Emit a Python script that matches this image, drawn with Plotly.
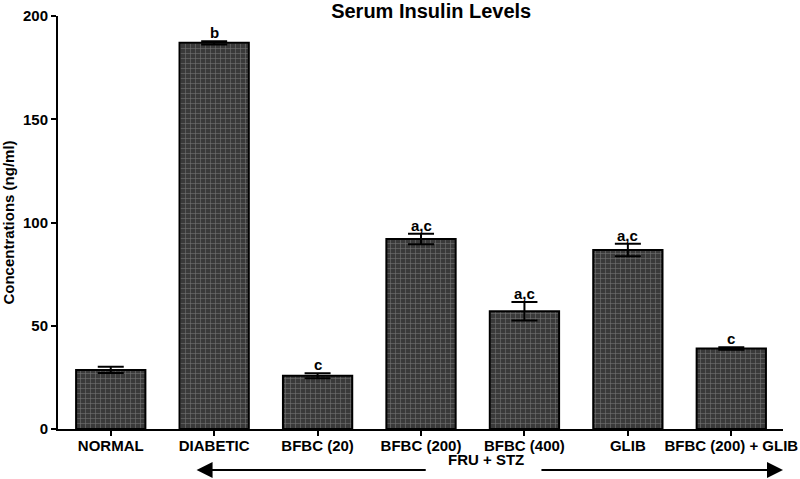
import plotly.graph_objects as go

# data
groups = ["NORMAL", "DIABETIC", "BFBC (20)", "BFBC (200)", "BFBC (400)", "GLIB", "BFBC (200) + GLIB"]
insulin = [28.6, 187.0, 25.8, 92.0, 57.0, 86.7, 39.0]
sem = [1.5, 0.8, 1.2, 2.5, 4.5, 3.0, 0.6]
letters = ["", "b", "c", "a,c", "a,c", "a,c", "c"]

FONT = "Arial, Liberation Sans, sans-serif"
TXT = 15

fig = go.Figure()
fig.add_trace(go.Bar(
    x=groups,
    y=insulin,
    width=0.67,
    marker=dict(
        color="#3a3a3a",
        line=dict(color="black", width=2),
        pattern=dict(shape="+", size=5, solidity=0.2,
                     fgcolor="#b4b4b4", bgcolor="#3a3a3a", fillmode="overlay"),
    ),
    error_y=dict(type="data", array=sem, visible=True,
                 color="black", thickness=2, width=13),
    showlegend=False,
))

# significance letters above each bar
for g, v, e, lab in zip(groups, insulin, sem, letters):
    if lab:
        fig.add_annotation(x=g, y=v + e, text="<b>%s</b>" % lab, showarrow=False,
                           yanchor="bottom", yshift=-2,
                           font=dict(family=FONT, size=TXT, color="black"))

# FRU + STZ arrow under the treated groups
arrow_y = -0.099
fig.add_annotation(x=3.63, y=arrow_y, xref="x", yref="paper", text="<b>FRU + STZ</b>",
                   showarrow=False, font=dict(family=FONT, size=TXT, color="black"))
fig.add_annotation(x=0.83, y=arrow_y, xref="x", yref="paper", text="",
                   ax=3.06, ay=0, axref="x", ayref="pixel",
                   showarrow=True, arrowhead=2, arrowsize=1.6, arrowwidth=2, arrowcolor="black")
fig.add_annotation(x=6.5, y=arrow_y, xref="x", yref="paper", text="",
                   ax=4.15, ay=0, axref="x", ayref="pixel",
                   showarrow=True, arrowhead=2, arrowsize=1.6, arrowwidth=2, arrowcolor="black")

fig.update_layout(
    width=800, height=479,
    margin=dict(l=58, r=17, t=16, b=50),
    plot_bgcolor="white", paper_bgcolor="white",
    title=dict(text="<b>Serum Insulin Levels</b>", x=0.539, xanchor="center",
               y=0.978, yanchor="middle", font=dict(family=FONT, size=20, color="black")),
    font=dict(family=FONT, color="black"),
)
fig.update_xaxes(
    range=[-0.51, 6.5], showline=True, linecolor="black", linewidth=2,
    ticks="outside", ticklen=5, tickwidth=2, tickcolor="black",
    tickfont=dict(family=FONT, size=TXT, color="black", weight="bold"),
    ticklabelstandoff=-3,
    showgrid=False, zeroline=False, automargin=False,
)
fig.update_yaxes(
    range=[0, 200], tickvals=[0, 50, 100, 150, 200],
    showline=True, linecolor="black", linewidth=2,
    ticks="outside", ticklen=5, tickwidth=2, tickcolor="black",
    tickfont=dict(family=FONT, size=TXT, color="black", weight="bold"),
    title=dict(text="<b>Concentrations (ng/ml)</b>", font=dict(family=FONT, size=TXT, color="black"),
               standoff=7),
    showgrid=False, zeroline=False, automargin=False,
)

# drop the default body margin so the figure sits flush with the window
fig.write_html("out.html", config={"displayModeBar": False},
               post_script="document.body.style.margin='0';")
